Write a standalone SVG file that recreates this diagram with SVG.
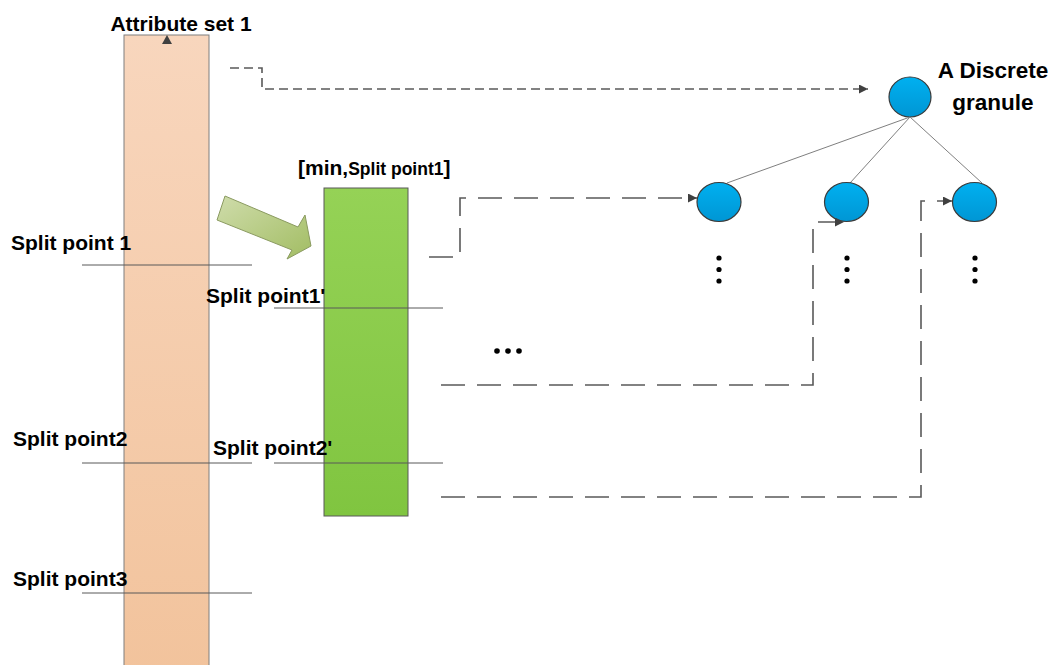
<svg xmlns="http://www.w3.org/2000/svg" width="1054" height="665" viewBox="0 0 1054 665">
<defs>
  <linearGradient id="gOrange" x1="0" y1="0" x2="0" y2="1">
    <stop offset="0" stop-color="#f8d6bd"/>
    <stop offset="1" stop-color="#f2c39c"/>
  </linearGradient>
  <linearGradient id="gGreen" x1="0" y1="0" x2="0" y2="1">
    <stop offset="0" stop-color="#95d256"/>
    <stop offset="1" stop-color="#80c540"/>
  </linearGradient>
  <linearGradient id="gArrow" x1="0" y1="0" x2="1" y2="1">
    <stop offset="0" stop-color="#cfdcab"/>
    <stop offset="1" stop-color="#a2bd63"/>
  </linearGradient>
  <linearGradient id="gBlue" x1="0" y1="0" x2="0" y2="1">
    <stop offset="0" stop-color="#00b0f0"/>
    <stop offset="1" stop-color="#0096d4"/>
  </linearGradient>
  <marker id="ah" viewBox="0 0 10 10" refX="10" refY="5" markerWidth="9" markerHeight="9" markerUnits="userSpaceOnUse" orient="auto">
    <path d="M0,0 L10,5 L0,10 Z" fill="#404040"/>
  </marker>
  <style>
    .lbl{font-family:"Liberation Sans",Arial,sans-serif;font-weight:bold;fill:#000;}
    .split{stroke:#595959;stroke-width:1;fill:none;}
    .conn{stroke:#595959;stroke-width:1.6;fill:none;stroke-dasharray:24 12;}
    .conn1{stroke:#595959;stroke-width:1.6;fill:none;stroke-dasharray:9 5;}
    .node{fill:url(#gBlue);stroke:#3a3a3a;stroke-width:1.2;}
    .edge{stroke:#7f7f7f;stroke-width:1;fill:none;}
    .dot{fill:#000;}
  </style>
</defs>
<rect width="1054" height="665" fill="#ffffff"/>

<g id="attribute-set">
  <rect x="124" y="35" width="85" height="640" fill="url(#gOrange)" stroke="#7f7f7f" stroke-width="1"/>
  <path d="M167,35 L172,44 L162,44 Z" fill="#404040"/>
  <text class="lbl" x="181" y="31" font-size="21" text-anchor="middle">Attribute set 1</text>
</g>

<g id="interval">
  <rect x="324" y="188" width="84" height="328" fill="url(#gGreen)" stroke="#595959" stroke-width="1"/>
  <text class="lbl" x="298" y="175" font-size="21">[min,<tspan font-size="17.5">Split point1</tspan>]</text>
</g>

<g id="split-lines">
  <line class="split" x1="82" y1="265" x2="252" y2="265"/>
  <line class="split" x1="82" y1="463" x2="252" y2="463"/>
  <line class="split" x1="82" y1="593" x2="252" y2="593"/>
  <line class="split" x1="274" y1="308" x2="443" y2="308"/>
  <line class="split" x1="274" y1="463" x2="443" y2="463"/>
  <text class="lbl" x="11" y="250" font-size="21">Split point 1</text>
  <text class="lbl" x="13" y="446" font-size="21">Split point2</text>
  <text class="lbl" x="13" y="586" font-size="21">Split point3</text>
  <text class="lbl" x="206" y="303" font-size="21">Split point1'</text>
  <text class="lbl" x="213" y="455" font-size="21">Split point2'</text>
</g>

<g id="block-arrow">
  <path d="M225,196 L298,227 L305,215 L311,246 L287,259 L292,250 L217,220 Z" fill="url(#gArrow)" stroke="#8a9a60" stroke-width="1"/>
</g>

<g id="granule-root">
  <ellipse class="node" cx="910" cy="97" rx="21" ry="20"/>
  <text class="lbl" x="993" y="78" font-size="22.5" text-anchor="middle">A Discrete</text>
  <text class="lbl" x="993" y="110" font-size="22.5" text-anchor="middle">granule</text>
</g>

<g id="tree-edges">
  <line class="edge" x1="910" y1="117" x2="727" y2="183"/>
  <line class="edge" x1="910" y1="117" x2="850" y2="183"/>
  <line class="edge" x1="910" y1="117" x2="982" y2="183"/>
</g>

<g id="granule-child-1">
  <ellipse class="node" cx="719" cy="202" rx="22" ry="19.5"/>
  <circle class="dot" cx="719" cy="258" r="2.6"/>
  <circle class="dot" cx="719" cy="269.5" r="2.6"/>
  <circle class="dot" cx="719" cy="281" r="2.6"/>
</g>
<g id="granule-child-2">
  <ellipse class="node" cx="846.5" cy="202" rx="22" ry="19.5"/>
  <circle class="dot" cx="847" cy="258" r="2.6"/>
  <circle class="dot" cx="847" cy="269.5" r="2.6"/>
  <circle class="dot" cx="847" cy="281" r="2.6"/>
</g>
<g id="granule-child-3">
  <ellipse class="node" cx="974.5" cy="202" rx="22" ry="19.5"/>
  <circle class="dot" cx="975" cy="258" r="2.6"/>
  <circle class="dot" cx="975" cy="269.5" r="2.6"/>
  <circle class="dot" cx="975" cy="281" r="2.6"/>
</g>

<g id="ellipsis">
  <circle class="dot" cx="497" cy="351" r="2.8"/>
  <circle class="dot" cx="508" cy="351" r="2.8"/>
  <circle class="dot" cx="519" cy="351" r="2.8"/>
</g>

<g id="connectors">
  <path class="conn1" d="M230,68 H262 V89 H868" marker-end="url(#ah)"/>
  <path class="conn" d="M429,257 H460 V198 H697" marker-end="url(#ah)"/>
  <path class="conn" d="M441,385 H813 V222 H844" marker-end="url(#ah)"/>
  <path class="conn" d="M441,497 H921 V201 H952" marker-end="url(#ah)"/>
</g>
</svg>
